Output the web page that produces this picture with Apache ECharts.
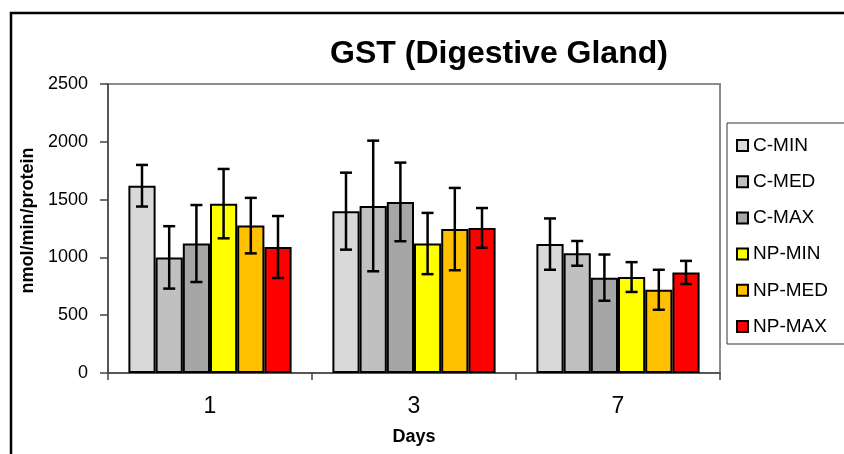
<!DOCTYPE html>
<html>
<head>
<meta charset="utf-8">
<script src="https://cdn.jsdelivr.net/npm/echarts@6/dist/echarts.min.js"></script>
<style>
  html, body { margin: 0; padding: 0; background: #fff; }
  #chart { width: 844px; height: 454px; }
</style>
</head>
<body>
<div id="chart"></div>
<script>
// Sampling days on the category axis
const days = ['1', '3', '7'];
const groupNames = ['C-MIN', 'C-MED', 'C-MAX', 'NP-MIN', 'NP-MED', 'NP-MAX'];
const groupColors = ['#d9d9d9', '#c0c0c0', '#a6a6a6', '#ffff00', '#ffc000', '#ff0000'];

// Mean GST activity (nmol/min/protein) and standard deviation per group
const cMin = [1620, 1400, 1115];
const cMinErr = [180, 333, 222];
const cMed = [1000, 1445, 1035];
const cMedErr = [270, 565, 107];
const cMax = [1120, 1480, 825];
const cMaxErr = [333, 340, 200];
const npMin = [1465, 1120, 830];
const npMinErr = [300, 265, 129];
const npMed = [1275, 1245, 720];
const npMedErr = [240, 356, 173];
const npMax = [1090, 1255, 870];
const npMaxErr = [268, 172, 100];

const yTicks = [0, 500, 1000, 1500, 2000, 2500];

const means = [cMin, cMed, cMax, npMin, npMed, npMax];
const errs = [cMinErr, cMedErr, cMaxErr, npMinErr, npMedErr, npMaxErr];

const FONT = "'Liberation Sans', Arial, sans-serif";
const CAT_GAP = 0.2;

const barSeries = groupNames.map((name, i) => ({
  name: name,
  type: 'bar',
  barGap: '0%',
  barCategoryGap: (CAT_GAP * 100) + '%',
  data: means[i],
  itemStyle: { color: groupColors[i], borderColor: '#000', borderWidth: 2 },
  z: 2
}));

// Error bar rows: [dayIndex, groupIndex, mean, sd]
const errRows = [];
means.forEach((m, g) => m.forEach((v, d) => errRows.push([d, g, v, errs[g][d]])));

const errorSeries = {
  name: 'sd',
  type: 'custom',
  data: errRows,
  encode: { x: 0, y: 2 },
  z: 5,
  renderItem: function (params, api) {
    const d = api.value(0), g = api.value(1), v = api.value(2), e = api.value(3);
    const band = api.size([1, 0])[0];
    const groupW = band * (1 - CAT_GAP);
    const bw = groupW / groupNames.length;
    const cx = api.coord([d, v])[0] - groupW / 2 + bw * (g + 0.5);
    const yTop = api.coord([d, v + e])[1];
    const yBot = api.coord([d, v - e])[1];
    const cap = 6;
    const st = { stroke: '#000', lineWidth: 2.5 };
    return {
      type: 'group',
      children: [
        { type: 'line', shape: { x1: cx, y1: yTop, x2: cx, y2: yBot }, style: st },
        { type: 'line', shape: { x1: cx - cap, y1: yTop, x2: cx + cap, y2: yTop }, style: st },
        { type: 'line', shape: { x1: cx - cap, y1: yBot, x2: cx + cap, y2: yBot }, style: st }
      ]
    };
  }
};

const chart = echarts.init(document.getElementById('chart'), null, { renderer: 'canvas' });
chart.setOption({
  animation: false,
  backgroundColor: '#fff',
  textStyle: { fontFamily: FONT },
  title: {
    text: 'GST (Digestive Gland)',
    left: 494,
    top: 33,
    textAlign: 'center',
    textStyle: { fontFamily: FONT, fontSize: 32, fontWeight: 'bold', color: '#000' }
  },
  graphic: [
    {
      type: 'rect',
      shape: { x: 11, y: 13, width: 1000, height: 1000 },
      style: { fill: 'none', stroke: '#000', lineWidth: 2.5 },
      silent: true
    },
    {
      type: 'rect',
      shape: { x: 727, y: 123, width: 200, height: 221 },
      style: { fill: '#fff', stroke: '#333', lineWidth: 1 },
      silent: true,
      z: 0
    }
  ],
  legend: {
    data: groupNames,
    orient: 'vertical',
    left: 736,
    top: 136,
    padding: 0,
    icon: 'rect',
    itemWidth: 11,
    itemHeight: 11,
    itemGap: 17.2,
    itemTextGap: 0,
    textStyle: { fontFamily: FONT, fontSize: 19, color: '#000', lineHeight: 18 }
  },
  grid: {
    left: 108,
    top: 84,
    right: 124,
    bottom: 81,
    show: true,
    borderColor: '#8c8c8c',
    borderWidth: 2,
    backgroundColor: '#fff'
  },
  xAxis: {
    type: 'category',
    data: days,
    name: 'Days',
    nameLocation: 'middle',
    nameGap: 55,
    nameTextStyle: { fontFamily: FONT, fontSize: 18, fontWeight: 'bold', color: '#000' },
    axisLine: { lineStyle: { color: '#444', width: 1.5 } },
    axisTick: { show: true, length: 7, lineStyle: { color: '#444', width: 1.5 } },
    axisLabel: { fontFamily: FONT, fontSize: 23, color: '#000', margin: 22 }
  },
  yAxis: {
    type: 'value',
    min: yTicks[0],
    max: yTicks[yTicks.length - 1],
    interval: yTicks[1] - yTicks[0],
    name: 'nmol/min/protein',
    nameLocation: 'middle',
    nameRotate: 90,
    nameGap: 64,
    nameTextStyle: { fontFamily: FONT, fontSize: 18, fontWeight: 'bold', color: '#000', padding: [0, 0, 0, 16] },
    axisLine: { show: true, lineStyle: { color: '#444', width: 1.5 } },
    axisTick: { show: true, length: 8, lineStyle: { color: '#444', width: 1.5 } },
    axisLabel: {
      fontFamily: FONT, fontSize: 18, color: '#000', margin: 20,
      formatter: function (v) { return String(v); }
    },
    splitLine: { show: false }
  },
  series: barSeries.concat([errorSeries])
});
</script>
</body>
</html>
